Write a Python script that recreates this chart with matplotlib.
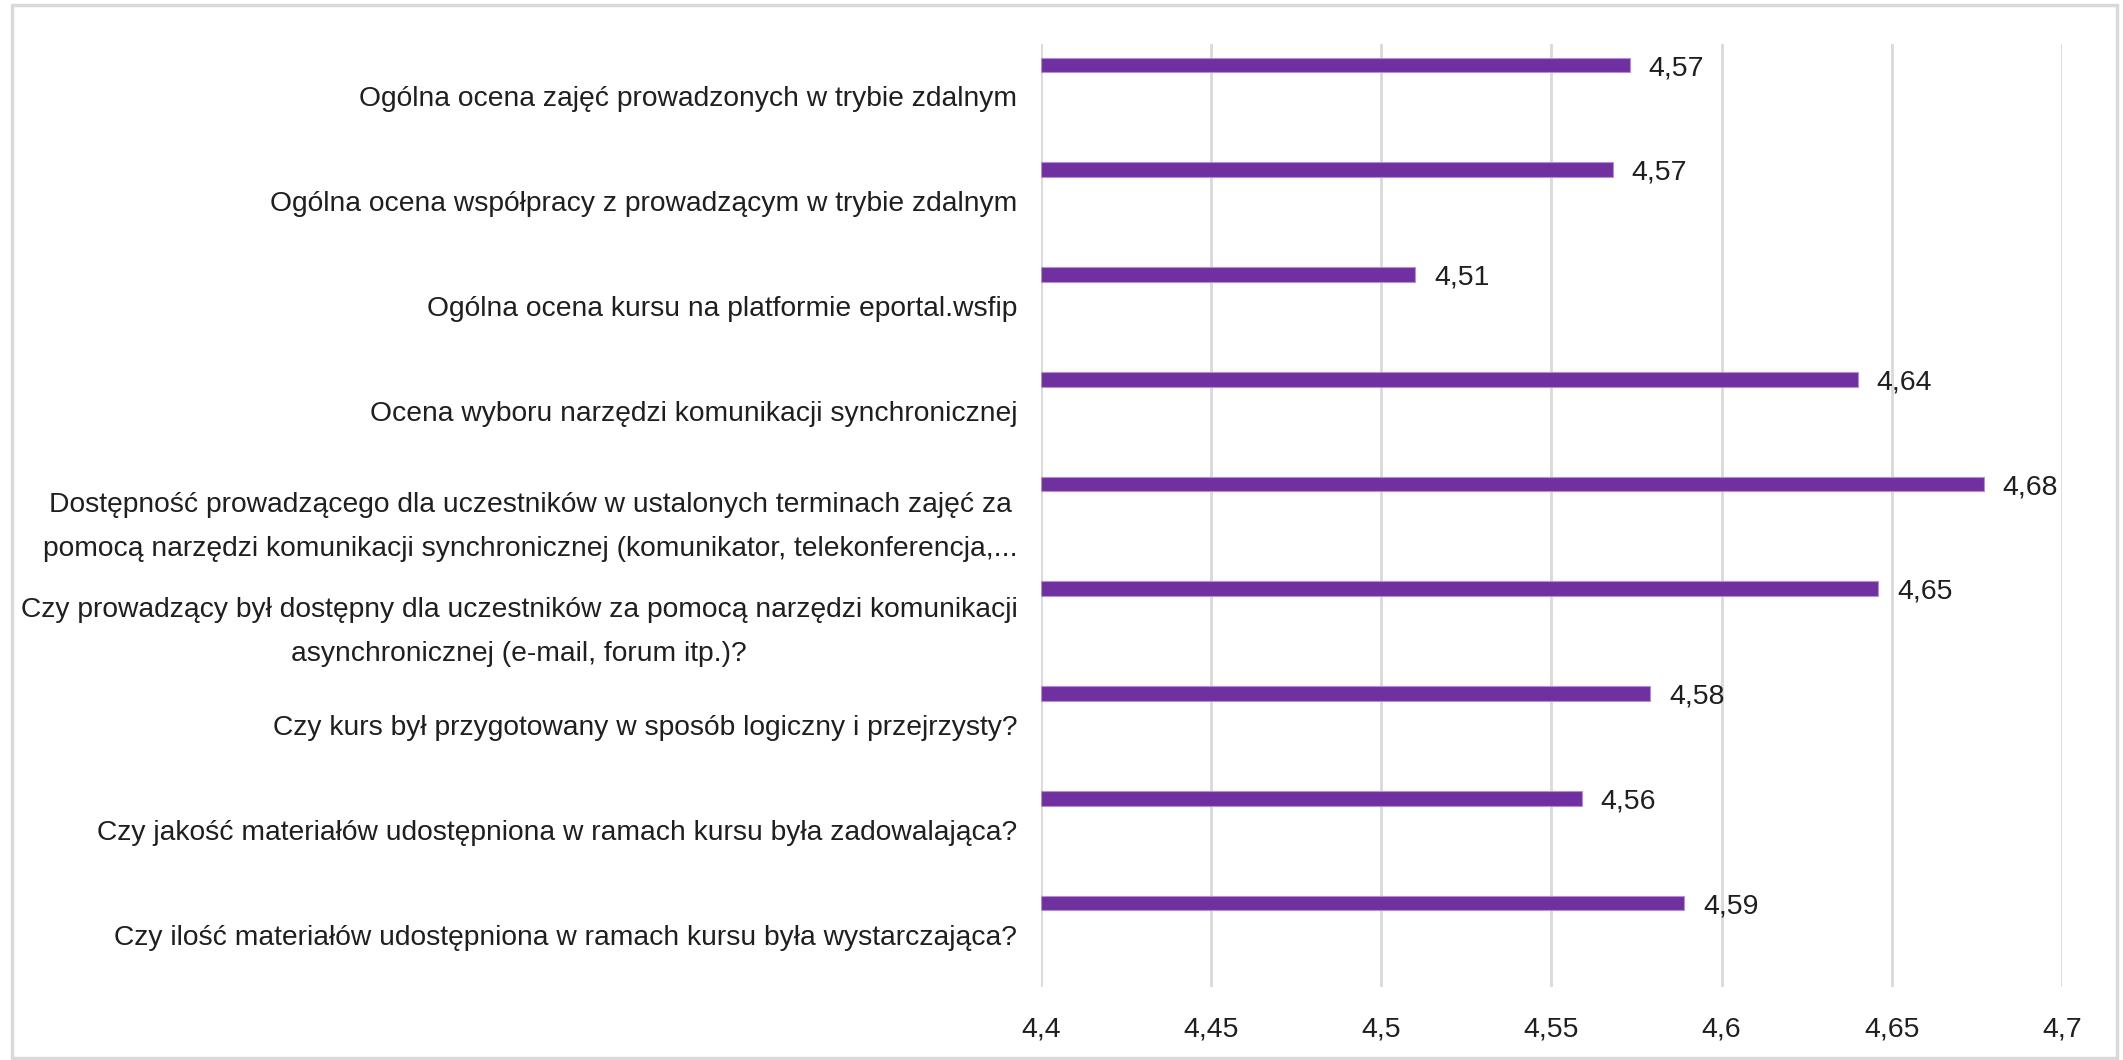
import matplotlib
matplotlib.use("Agg")
import matplotlib.pyplot as plt
from matplotlib.patches import Rectangle

# Data (top to bottom)
categories = [
    "Ogólna ocena zajęć prowadzonych w trybie zdalnym",
    "Ogólna ocena współpracy z prowadzącym w trybie zdalnym",
    "Ogólna ocena kursu na platformie eportal.wsfip",
    "Ocena wyboru narzędzi komunikacji synchronicznej",
    "Dostępność prowadzącego dla uczestników w ustalonych terminach zajęć za\n"
    "pomocą narzędzi komunikacji synchronicznej (komunikator, telekonferencja,...",
    "Czy prowadzący był dostępny dla uczestników za pomocą narzędzi komunikacji\n"
    "asynchronicznej (e-mail, forum itp.)?",
    "Czy kurs był przygotowany w sposób logiczny i przejrzysty?",
    "Czy jakość materiałów udostępniona w ramach kursu była zadowalająca?",
    "Czy ilość materiałów udostępniona w ramach kursu była wystarczająca?",
]
values = [4.573, 4.568, 4.510, 4.640, 4.677, 4.646, 4.579, 4.559, 4.589]
xticks = [4.4, 4.45, 4.5, 4.55, 4.6, 4.65, 4.7]

plt.rcParams['font.family'] = ['Liberation Sans', 'DejaVu Sans']
text_color = '#1f1f1f'
bar_color = '#7030A0'
grid_color = '#d9d9d9'

fig = plt.figure(figsize=(21.23, 10.60), dpi=100)
ax = fig.add_axes([0.4903, 0.0689, 0.4810, 0.8896])

pos = list(range(len(categories)))
bar_pos = [p - 0.30 for p in pos]
ax.barh(bar_pos, [v - 4.4 for v in values], left=4.4, height=0.14,
        color=bar_color, edgecolor='#b48fd0', linewidth=0.8, zorder=3)

for y, v in zip(bar_pos, values):
    ax.text(v + 0.0055, y + 0.03, f"{v:.2f}".replace('.', ','), va='center', ha='left',
            fontsize=20.5, color=text_color)

ax.set_xlim(4.4, 4.7)
ax.set_ylim(len(categories) - 0.5, -0.5)
ax.set_xticks(xticks)
ax.set_xticklabels([f"{t:g}".replace('.', ',') for t in xticks], fontsize=20.5, color=text_color)
ax.set_yticks(pos)
ax.set_yticklabels(categories, fontsize=20.3, color=text_color, multialignment='center',
                   linespacing=1.9)
ax.tick_params(axis='both', length=0)
ax.tick_params(axis='y', pad=17)
ax.tick_params(axis='x', pad=21)
ax.grid(axis='x', color=grid_color, linewidth=2, zorder=0)
for s in ax.spines.values():
    s.set_visible(False)

# light frame around the chart
fig.patches.append(Rectangle((12 / 2123, 2 / 1060), 2105 / 2123, 1053 / 1060,
                             transform=fig.transFigure, fill=False,
                             edgecolor=grid_color, linewidth=2.5))

fig.savefig("out.png", dpi=100)
